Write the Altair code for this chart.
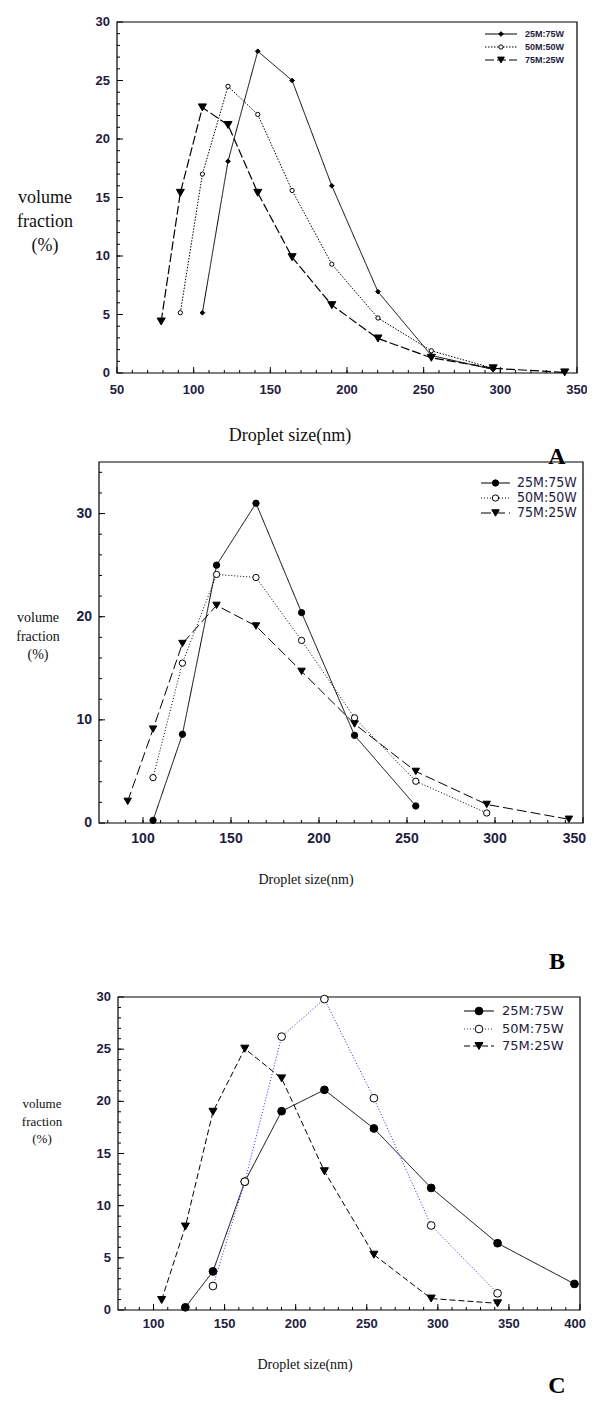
import altair as alt
import pandas as pd

# ---------------- data ----------------
labels_a = ["25M:75W", "50M:50W", "75M:25W"]
labels_b = ["25M:75W", "50M:50W", "75M:25W"]
labels_c = ["25M:75W", "50M:75W", "75M:25W"]

# Panel A
a_x_1 = [105.7, 122.4, 141.8, 164.2, 190.1, 220.2, 255.0, 295.3]
a_y_1 = [5.15, 18.1, 27.5, 25.0, 16.0, 6.95, 1.5, 0.3]
a_x_2 = [91.3, 105.7, 122.4, 141.8, 164.2, 190.1, 220.2, 255.0, 295.3]
a_y_2 = [5.15, 17.0, 24.5, 22.1, 15.6, 9.3, 4.7, 1.9, 0.4]
a_x_3 = [78.8, 91.3, 105.7, 122.4, 141.8, 164.2, 190.1, 220.2, 255.0, 295.3, 342.0]
a_y_3 = [4.4, 15.4, 22.7, 21.2, 15.4, 9.9, 5.8, 2.95, 1.3, 0.4, 0.05]

# Panel B
b_x_1 = [105.7, 122.4, 141.8, 164.2, 190.1, 220.2, 255.0]
b_y_1 = [0.26, 8.6, 25.0, 31.0, 20.4, 8.5, 1.65]
b_x_2 = [105.7, 122.4, 141.8, 164.2, 190.1, 220.2, 255.0, 295.3]
b_y_2 = [4.4, 15.5, 24.1, 23.8, 17.7, 10.2, 4.05, 0.97]
b_x_3 = [91.3, 105.7, 122.4, 141.8, 164.2, 190.1, 220.2, 255.0, 295.3, 342.0]
b_y_3 = [2.1, 9.1, 17.4, 21.1, 19.1, 14.7, 9.6, 5.0, 1.8, 0.36]

# Panel C
c_x_1 = [122.4, 141.8, 164.2, 190.1, 220.2, 255.0, 295.3, 342.0, 396.1]
c_y_1 = [0.26, 3.7, 12.3, 19.05, 21.1, 17.4, 11.7, 6.4, 2.5]
c_x_2 = [141.8, 164.2, 190.1, 220.2, 255.0, 295.3, 342.0]
c_y_2 = [2.3, 12.3, 26.2, 29.8, 20.3, 8.1, 1.6]
c_x_3 = [105.7, 122.4, 141.8, 164.2, 190.1, 220.2, 255.0, 295.3, 342.0]
c_y_3 = [0.96, 8.0, 19.0, 25.05, 22.2, 13.3, 5.3, 1.1, 0.64]

# tick values / tick labels
a_xmajor = [50, 100, 150, 200, 250, 300, 350]
a_xminor = list(range(60, 350, 10))
a_ymajor = [0, 5, 10, 15, 20, 25, 30]
a_yminor = list(range(1, 30, 1))

b_xmajor = [100, 150, 200, 250, 300, 350]
b_xminor = list(range(80, 350, 10))
b_ymajor = [0, 10, 20, 30]
b_yminor = list(range(2, 35, 2))

c_xmajor = [100, 150, 200, 250, 300, 350, 400]
c_xminor = list(range(80, 400, 10))
c_ymajor = [0, 5, 10, 15, 20, 25, 30]
c_yminor = list(range(1, 30, 1))

x_title = "Droplet size(nm)"
y_title = "volume\nfraction\n(%)"

W, H = 579, 1391
LABEL_COLOR = "#1e2040"
ONE = pd.DataFrame({"k": [0]})


def panel(series, labels, styles, xdom, ydom, box, xmaj, xmin_, ymaj, ymin_,
          lab_size, xpad, ypad, last_dx, xtitle, ytitle, legend, letter):
    left, right, top, bottom = box
    xs = alt.Scale(domain=xdom, range=[left, right], nice=False, zero=False)
    ys = alt.Scale(domain=ydom, range=[bottom, top], nice=False, zero=False)

    def X(f):
        return alt.X(f, scale=xs, axis=None)

    def Y(f):
        return alt.Y(f, scale=ys, axis=None)

    def XD(v):
        return alt.X(datum=v, type="quantitative", scale=xs, axis=None)

    def YD(v):
        return alt.Y(datum=v, type="quantitative", scale=ys, axis=None)

    layers = []
    # frame
    layers.append(alt.Chart(ONE).mark_rect(filled=False, stroke="black", strokeWidth=1.2).encode(
        x=XD(xdom[0]), x2=alt.X2(datum=xdom[1]), y=YD(ydom[0]), y2=alt.Y2(datum=ydom[1])))
    # ticks (inward)
    for vals, ln in ((xmaj, 6), (xmin_, 3)):
        layers.append(alt.Chart(pd.DataFrame({"v": vals})).mark_rule(
            color="black", strokeWidth=1, y2Offset=-ln).encode(
            x=X("v:Q"), y=YD(ydom[0]), y2=alt.Y2(datum=ydom[0])))
    for vals, ln in ((ymaj, 6), (ymin_, 3)):
        layers.append(alt.Chart(pd.DataFrame({"v": vals})).mark_rule(
            color="black", strokeWidth=1, x2Offset=ln).encode(
            y=Y("v:Q"), x=XD(xdom[0]), x2=alt.X2(datum=xdom[0])))
    # tick labels (last x label kept inside the page edge)
    txt = dict(font="Liberation Sans", fontWeight="bold", fontSize=lab_size, color=LABEL_COLOR)
    if last_dx is None:
        main_x, edge_x = xmaj, []
    else:
        main_x, edge_x = xmaj[:-1], xmaj[-1:]
    layers.append(alt.Chart(pd.DataFrame({"v": main_x})).mark_text(
        baseline="middle", align="center", dy=xpad, **txt).encode(
        x=X("v:Q"), y=YD(ydom[0]), text=alt.Text("v:Q", format="d")))
    if edge_x:
        layers.append(alt.Chart(pd.DataFrame({"v": edge_x})).mark_text(
            baseline="middle", align="right", dy=xpad, dx=last_dx, **txt).encode(
            x=X("v:Q"), y=YD(ydom[0]), text=alt.Text("v:Q", format="d")))
    layers.append(alt.Chart(pd.DataFrame({"v": ymaj})).mark_text(
        baseline="middle", align="right", dx=-ypad, **txt).encode(
        y=Y("v:Q"), x=XD(xdom[0]), text=alt.Text("v:Q", format="d")))
    # axis titles
    xt_cx, xt_cy, xt_size = xtitle
    yt_cx, yt_top, yt_size, yt_lh = ytitle
    layers.append(alt.Chart(ONE).mark_text(
        align="center", baseline="middle", font="Liberation Serif", fontSize=xt_size,
        color="#111111").encode(x=alt.value(xt_cx), y=alt.value(xt_cy), text=alt.value(x_title)))
    layers.append(alt.Chart(ONE).mark_text(
        align="center", baseline="top", font="Liberation Serif", fontSize=yt_size,
        lineBreak="\n", lineHeight=yt_lh, color="#111111").encode(
        x=alt.value(yt_cx), y=alt.value(yt_top), text=alt.value(y_title)))
    # data lines and markers
    for (xv, yv), st in zip(series, styles):
        df = pd.DataFrame({"x": xv, "y": yv})
        layers.append(alt.Chart(df).mark_line(
            color=st["color"], strokeWidth=st["lw"], strokeDash=st["dash"]).encode(
            x=X("x:Q"), y=Y("y:Q")))
    for (xv, yv), st in zip(series, styles):
        df = pd.DataFrame({"x": xv, "y": yv})
        layers.append(alt.Chart(df).mark_point(
            shape=st["shape"], filled=True, fill=st["fill"], stroke="black",
            strokeWidth=1, size=st["size"], opacity=1).encode(x=X("x:Q"), y=Y("y:Q")))
    # legend
    lx0, lx1, tx, rows, lfont, lsize, lweight = legend
    for lab, st, yy in zip(labels, styles, rows):
        layers.append(alt.Chart(ONE).mark_rule(
            color=st["color"], strokeWidth=st["lw"], strokeDash=st["dash"]).encode(
            x=alt.value(lx0), x2=alt.value(lx1), y=alt.value(yy)))
        layers.append(alt.Chart(ONE).mark_point(
            shape=st["shape"], filled=True, fill=st["fill"], stroke="black",
            strokeWidth=1, size=st["lsize"], opacity=1).encode(
            x=alt.value((lx0 + lx1) / 2), y=alt.value(yy)))
        layers.append(alt.Chart(ONE).mark_text(
            align="left", baseline="middle", font=lfont, fontSize=lsize,
            fontWeight=lweight, color=LABEL_COLOR).encode(
            x=alt.value(tx), y=alt.value(yy), text=alt.value(lab)))
    # panel letter
    lt, lxp, lyp = letter
    layers.append(alt.Chart(ONE).mark_text(
        align="center", baseline="middle", font="Liberation Serif", fontSize=24,
        fontWeight="bold", color="black").encode(
        x=alt.value(lxp), y=alt.value(lyp), text=alt.value(lt)))
    return alt.layer(*layers)


def sty(color, lw, dash, shape, fill, size, lsize):
    return {"color": color, "lw": lw, "dash": dash, "shape": shape,
            "fill": fill, "size": size, "lsize": lsize}


styles_a = [sty("black", 1, [1, 0], "diamond", "black", 22, 22),
            sty("black", 1, [1.5, 1.5], "circle", "white", 18, 18),
            sty("black", 1.2, [9, 3], "triangle-down", "black", 65, 45)]
styles_b = [sty("black", 1, [1, 0], "circle", "black", 40, 40),
            sty("black", 1, [1, 2], "circle", "white", 40, 40),
            sty("black", 1, [10, 4], "triangle-down", "black", 55, 55)]
styles_c = [sty("black", 1, [1, 0], "circle", "black", 60, 60),
            sty("#2a2ae0", 1, [1, 2], "circle", "white", 60, 60),
            sty("black", 1, [6, 3], "triangle-down", "black", 65, 65)]

pa = panel([(a_x_1, a_y_1), (a_x_2, a_y_2), (a_x_3, a_y_3)], labels_a, styles_a,
           [50, 350], [0, 30], (109, 569, 14, 365),
           a_xmajor, a_xminor, a_ymajor, a_yminor, 13, 17, 7, None,
           (282, 428, 18), (37, 181, 18, 24),
           (477, 509, 517, [26, 39, 52], "Liberation Sans", 9, "bold"),
           ("A", 549, 449))
pb = panel([(b_x_1, b_y_1), (b_x_2, b_y_2), (b_x_3, b_y_3)], labels_b, styles_b,
           [75, 350], [0, 35], (91, 575, 454, 815),
           b_xmajor, b_xminor, b_ymajor, b_yminor, 14, 16, 7, 3,
           (298, 872, 14), (30, 603, 14, 18.5),
           (473, 502, 509, [475, 490, 505], "Liberation Sans Narrow, DejaVu Sans Condensed, sans-serif", 14, "normal"),
           ("B", 549, 954))
pc = panel([(c_x_1, c_y_1), (c_x_2, c_y_2), (c_x_3, c_y_3)], labels_c, styles_c,
           [75, 400], [0, 30], (110, 572, 989, 1302),
           c_xmajor, c_xminor, c_ymajor, c_yminor, 13, 14, 7, 6,
           (297, 1357, 14), (34, 1090, 13, 17.5),
           (456, 486, 494, [1003, 1021, 1038], "DejaVu Sans", 13, "normal"),
           ("C", 549, 1378))

chart = alt.layer(pa, pb, pc).resolve_scale(
    x="independent", y="independent").properties(
    width=W, height=H, autosize=alt.AutoSizeParams(type="none"), padding=0
).configure_view(stroke=None)

chart.save("out.html", embed_options={"renderer": "svg", "actions": False})
